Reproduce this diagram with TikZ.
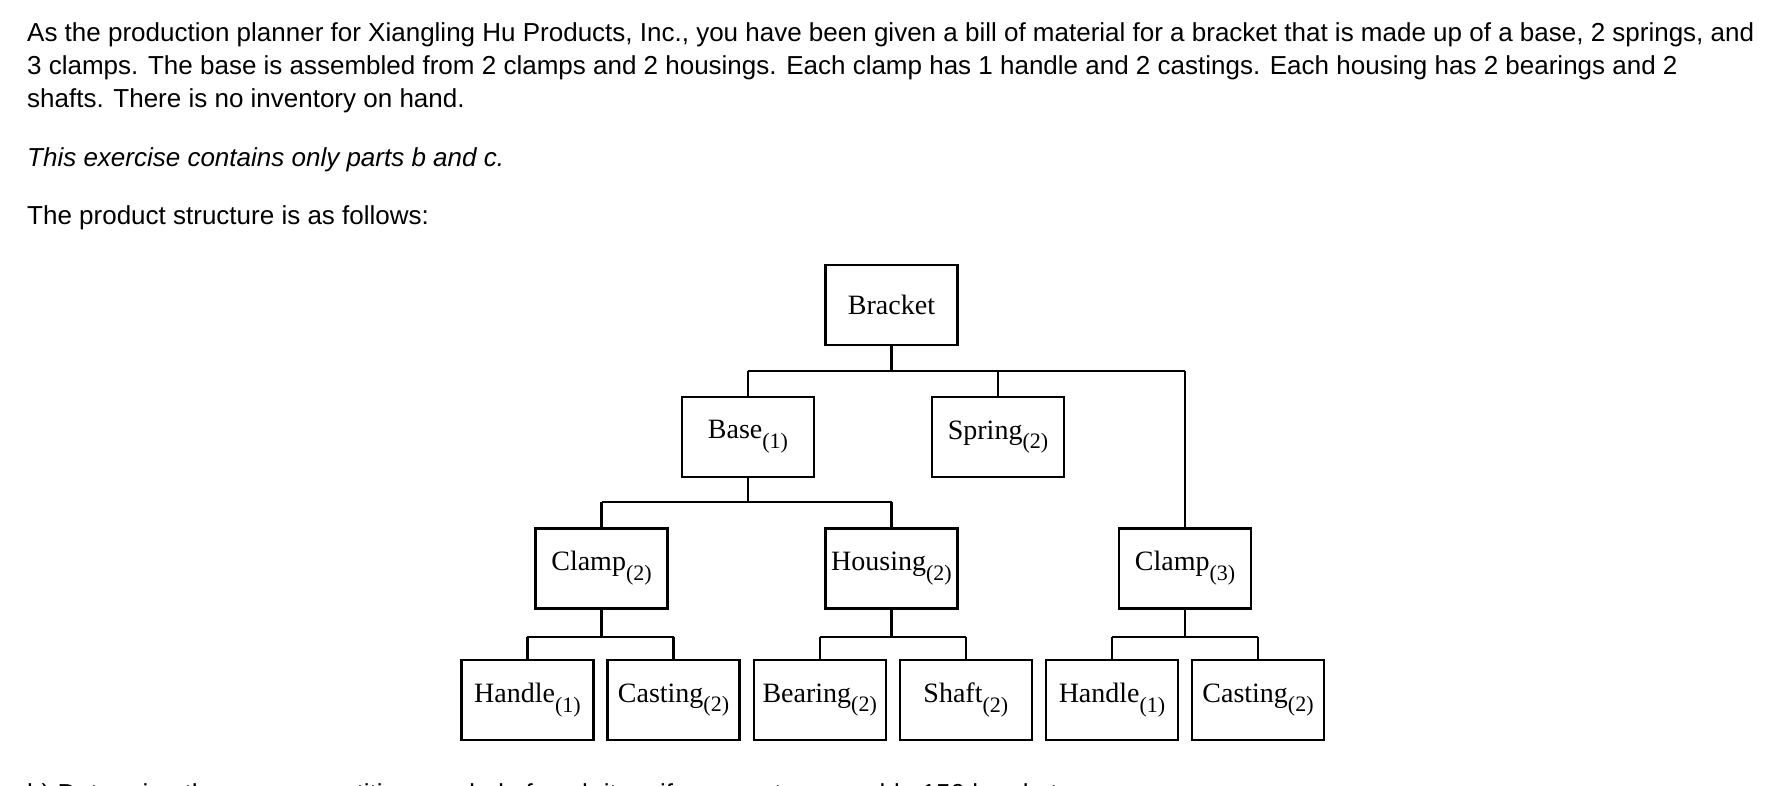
\documentclass[tikz,border=0pt]{standalone}
\usepackage{fontspec}
\setmainfont{Liberation Serif}
\newfontfamily\arialfont{Liberation Sans}
\newcommand{\qtyof}[1]{\raisebox{-0.35em}{\fontsize{22}{22}\selectfont(#1)}}

\begin{document}
\begin{tikzpicture}[x=1pt,y=-1pt,
  part/.style={draw,line width=2.4pt,minimum width=132pt,minimum height=80pt,
    inner sep=0pt,font=\fontsize{28}{28}\selectfont},
  intro/.style={anchor=base west,inner sep=0pt,
    font=\arialfont\fontsize{26}{26}\selectfont},
  link/.style={line width=2.2pt}]
\useasboundingbox (0,0) rectangle (1790,786);
\clip (0,0) rectangle (1790,786);

%question text
\node[intro] (intro1) at (27,42) {As the production planner for Xiangling Hu Products, Inc., you have been given a bill of material for a bracket that is made up of a base, 2 springs, and};
\node[intro] (intro2) at (27,75) {3 clamps. The base is assembled from 2 clamps and 2 housings. Each clamp has 1 handle and 2 castings. Each housing has 2 bearings and 2};
\node[intro] (intro3) at (27,108) {shafts. There is no inventory on hand.};
\node[intro] (note) at (27,167) {\itshape This exercise contains only parts b and c.};
\node[intro] (follows) at (27,225) {The product structure is as follows:};
\node[intro] (partb) at (27,802) {b) Determine the gross quantities needed of each item if you are to assemble 150 brackets.};

%level 0 and 1
\node[part] (bracket) at (891.5,305) {Bracket};
\node[part] (base) at (748,437) {Base\qtyof{1}};
\node[part] (spring) at (998,437) {Spring\qtyof{2}};
%level 2
\node[part] (clampa) at (601.5,568.5) {Clamp\qtyof{2}};
\node[part] (housing) at (891.5,568.5) {Housing\qtyof{2}};
\node[part] (clampb) at (1185,568.5) {Clamp\qtyof{3}};
%level 3
\node[part] (handlea) at (527.4,700) {Handle\qtyof{1}};
\node[part] (castinga) at (673.5,700) {Casting\qtyof{2}};
\node[part] (bearing) at (819.7,700) {Bearing\qtyof{2}};
\node[part] (shaft) at (965.8,700) {Shaft\qtyof{2}};
\node[part] (handleb) at (1112,700) {Handle\qtyof{1}};
\node[part] (castingb) at (1258,700) {Casting\qtyof{2}};

\coordinate (j0) at (891.5,371);
\coordinate (j1) at (748,502);
\coordinate (j2) at (601.5,637);
\coordinate (j3) at (891.5,637);
\coordinate (j4) at (1185,637);

%connectors
\draw[link] (bracket.south) -- (j0);
\draw[link] (base.north |- j0) -- (clampb.north |- j0);
\foreach \n in {base,spring,clampb}
  \draw[link] (\n.north) -- (\n.north |- j0);

\draw[link] (base.south) -- (j1);
\draw[link] (clampa.north |- j1) -- (housing.north |- j1);
\foreach \n in {clampa,housing}
  \draw[link] (\n.north) -- (\n.north |- j1);

\draw[link] (clampa.south) -- (j2);
\draw[link] (handlea.north |- j2) -- (castinga.north |- j2);
\draw[link] (housing.south) -- (j3);
\draw[link] (bearing.north |- j3) -- (shaft.north |- j3);
\draw[link] (clampb.south) -- (j4);
\draw[link] (handleb.north |- j4) -- (castingb.north |- j4);
\foreach \n in {handlea,castinga,bearing,shaft,handleb,castingb}
  \draw[link] (\n.north) -- (\n.north |- j2);

\end{tikzpicture}
\end{document}
